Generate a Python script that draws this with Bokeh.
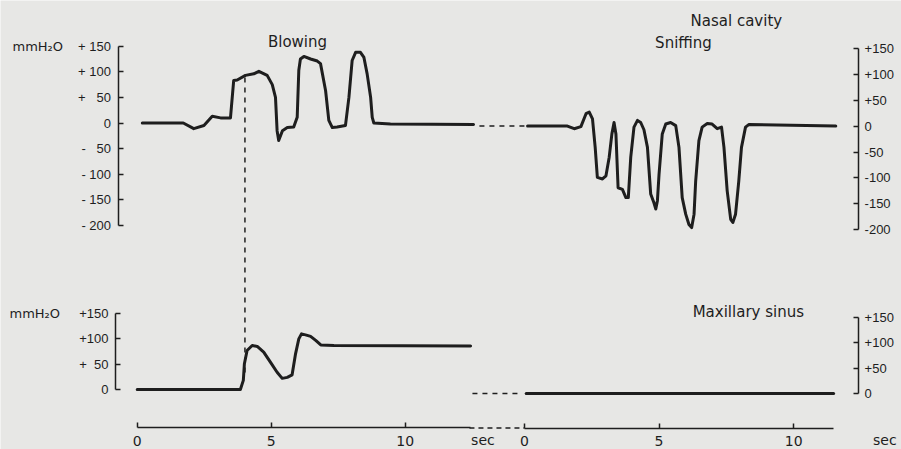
from bokeh.plotting import figure
from bokeh.models import Range1d, LinearAxis, FixedTicker, Label
from bokeh.embed import file_html
from bokeh.resources import INLINE

# ---------------- data (time in sec, pressure in mmH2O) ----------------
# Nasal cavity, blowing
nasal_blow_t = [0.19, 1.72, 2.11, 2.49, 2.80, 3.11, 3.48, 3.60, 3.73, 4.04, 4.35, 4.54,
                4.85, 5.04, 5.16, 5.22, 5.28, 5.42, 5.60, 5.84, 5.97, 6.03, 6.09, 6.22,
                6.47, 6.72, 6.84, 7.03, 7.15, 7.28, 7.46, 7.77, 7.90, 8.02, 8.15, 8.33,
                8.46, 8.58, 8.71, 8.77, 8.83, 9.45, 12.55]
nasal_blow_p = [0, 0, -11, -5, 13, 10, 10, 83, 84, 93, 96, 101,
                93, 75, 50, -15, -34, -15, -9, -8, 11, 103, 125, 130,
                125, 121, 116, 63, 5, -9, -8, -5, 50, 122, 138, 138,
                128, 96, 50, 11, 0, -2, -3]

# Nasal cavity, sniffing
nasal_sniff_t = [0.12, 1.60, 1.85, 2.10, 2.29, 2.41, 2.53, 2.63, 2.71, 2.90,
                 3.03, 3.15, 3.25, 3.33, 3.40, 3.48, 3.64, 3.77, 3.86, 3.95,
                 4.07, 4.20, 4.32, 4.44, 4.57, 4.69, 4.81, 4.88, 4.94, 5.00,
                 5.12, 5.25, 5.43, 5.62, 5.74, 5.86, 5.99, 6.11, 6.21, 6.30,
                 6.36, 6.48, 6.60, 6.79, 6.97, 7.16, 7.32, 7.41, 7.53, 7.66,
                 7.74, 7.84, 7.96, 8.06, 8.21, 8.33, 11.56]
nasal_sniff_p = [0, 0, -5, -1, 24, 27, 14, -41, -99, -102,
                 -96, -60, -15, 7, -15, -119, -122, -138, -138, -60,
                 -2, 11, 7, -7, -41, -131, -148, -160, -144, -93,
                 -15, 4, 7, 1, -41, -138, -170, -190, -196, -170,
                 -106, -28, -2, 5, 4, -5, -2, -41, -125, -180,
                 -186, -170, -106, -41, -2, 3, 0]

# Maxillary sinus, blowing
sinus_blow_t = [0.0, 3.85, 3.96, 4.00, 4.10, 4.29, 4.48, 4.72, 4.97, 5.22, 5.41,
                5.60, 5.78, 5.91, 6.03, 6.13, 6.28, 6.47, 6.66, 6.85, 7.34, 12.44]
sinus_blow_p = [0, 0, 18, 51, 77, 87, 85, 74, 54, 34, 22,
                24, 29, 71, 100, 110, 108, 105, 97, 88, 87, 86]

# Maxillary sinus, sniffing
sinus_sniff_t = [0.07, 11.48]
sinus_sniff_p = [0, 0]

# onset marker: time, level on the nasal trace and on the sinus trace
marker_t = 4.02
marker_nasal_p = 89
marker_sinus_p = 24

# axis ticks / labels
nasal_ticks = [-200, -150, -100, -50, 0, 50, 100, 150]
nasal_left_labels = ["- 200", "- 150", "- 100", "- \u200750", "0", "+ \u200750", "+ 100", "+ 150"]
nasal_right_labels = ["-200", "-150", "-100", "-50", "0", "+50", "+100", "+150"]
sinus_ticks = [0, 50, 100, 150]
sinus_left_labels = ["0", "+\u200750", "+100", "+150"]
sinus_right_labels = ["0", "+50", "+100", "+150"]
time_ticks = [0, 5, 10]
left_time_end = 12.43

BG = "#e7e7e5"
INK = "#1e1e1e"
NUM_FONT = "Liberation Sans"
TXT_FONT = "DejaVu Sans"

# one frame covering the whole canvas; each recording has its own ranges
p = figure(width=901, height=449,
           x_range=Range1d(-5.101, 28.519),        # left recordings, sec
           y_range=Range1d(-637.7, 239.26),        # nasal cavity (blowing), mmH2O
           x_axis_type=None, y_axis_type=None,
           output_backend="svg", toolbar_location=None, min_border=0,
           background_fill_color=BG, border_fill_color=BG, outline_line_color=None)
p.extra_x_ranges = {"rt": Range1d(-19.444, 14.0)}          # right recordings, sec
p.extra_y_ranges = {"tr": Range1d(-624.3, 242.5),          # nasal cavity (sniffing)
                    "bl": Range1d(-118.6, 768.8),          # maxillary sinus (blowing)
                    "br": Range1d(-110.0, 772.1)}          # maxillary sinus (sniffing)


def rng(name, dim):
    if name == "default":
        return p.x_range if dim == "x" else p.y_range
    return (p.extra_x_ranges if dim == "x" else p.extra_y_ranges)[name]


def convert(v, src, dst, dim="y"):
    a, b = rng(src, dim), rng(dst, dim)
    f = (v - a.start) / (a.end - a.start)
    return b.start + f * (b.end - b.start)


def y_axis(side, ticks, labels, bounds, xr, yr, loc, standoff):
    ax = LinearAxis(ticker=FixedTicker(ticks=ticks), bounds=bounds,
                    x_range_name=xr, y_range_name=yr, fixed_location=loc,
                    major_label_overrides=dict(zip(ticks, labels)),
                    major_tick_in=5, major_tick_out=0,
                    minor_tick_line_color=None,
                    axis_line_color=INK, axis_line_width=1.5,
                    major_tick_line_color=INK, major_tick_line_width=1.5,
                    major_label_text_font=NUM_FONT,
                    major_label_text_font_size="13px",
                    major_label_text_color=INK,
                    major_label_standoff=standoff)
    p.add_layout(ax, side)


def x_axis(bounds, xr, yr, loc):
    ax = LinearAxis(ticker=FixedTicker(ticks=time_ticks), bounds=bounds,
                    x_range_name=xr, y_range_name=yr, fixed_location=loc,
                    major_tick_in=5, major_tick_out=0,
                    minor_tick_line_color=None,
                    axis_line_color=INK, axis_line_width=1.5,
                    major_tick_line_color=INK, major_tick_line_width=1.5,
                    major_label_text_font=TXT_FONT,
                    major_label_text_font_size="14px",
                    major_label_text_color=INK,
                    major_label_standoff=8)
    p.add_layout(ax, "below")


def label(x, y, text, xr="default", yr="default", size="15px", align="center"):
    p.add_layout(Label(x=x, y=y, text=text, x_range_name=xr, y_range_name=yr,
                       text_font=TXT_FONT, text_font_size=size, text_color=INK,
                       text_align=align, text_baseline="alphabetic"))


def trace(t, v, xr, yr):
    p.line(t, v, x_range_name=xr, y_range_name=yr, line_color=INK, line_width=3,
           line_join="round", line_cap="round")


# axes
y_axis("left", nasal_ticks, nasal_left_labels, (-200, 150), "default", "default", -0.716, 7)
y_axis("left", sinus_ticks, sinus_left_labels, (0, 150), "default", "bl", -0.810, 7)
y_axis("right", nasal_ticks, nasal_right_labels, (-200, 150), "rt", "tr", 12.407, 6)
y_axis("right", sinus_ticks, sinus_right_labels, (0, 150), "rt", "br", 12.407, 6)
x_axis((0, left_time_end), "default", "bl", -76.09)
x_axis((0, sinus_sniff_t[-1]), "rt", "br", -67.78)

# traces
trace(nasal_blow_t, nasal_blow_p, "default", "default")
trace(nasal_sniff_t, nasal_sniff_p, "rt", "tr")
trace(sinus_blow_t, sinus_blow_p, "default", "bl")
trace(sinus_sniff_t, sinus_sniff_p, "rt", "br")

# dashed connectors between the two recordings
p.line([-1.667, 0.07], [0, 0], x_range_name="rt", y_range_name="tr",
       line_color=INK, line_width=1.5, line_dash="5 5")
p.line([-1.926, -0.074], [0, 0], x_range_name="rt", y_range_name="br",
       line_color=INK, line_width=1.5, line_dash="5 5")
p.line([-2.037, 0], [-67.78, -67.78], x_range_name="rt", y_range_name="br",
       line_color=INK, line_width=1.3, line_dash="5 4")

# vertical dashed onset marker, from the nasal trace down to the sinus trace
p.segment(x0=[marker_t], y0=[convert(marker_nasal_p, "default", "bl")],
          x1=[marker_t], y1=[marker_sinus_p], y_range_name="bl",
          line_color=INK, line_width=1.5, line_dash="5 5")

# texts
label(-4.653, 149.8, "mmH\u2082O", size="13px", align="left")
label(-4.765, 149.8, "mmH\u2082O", yr="bl", size="13px", align="left")
label(5.981, 158.2, "Blowing")
label(5.907, 161.0, "Sniffing", xr="rt", yr="tr")
label(7.87, 202.9, "Nasal cavity", xr="rt", yr="tr")
label(8.315, 160.1, "Maxillary sinus", xr="rt", yr="br")
label(-1.537, -92.0, "sec", xr="rt", yr="br", size="14px")
label(13.38, -92.0, "sec", xr="rt", yr="br", size="14px")

open("out.html", "w").write(file_html(p, INLINE))
